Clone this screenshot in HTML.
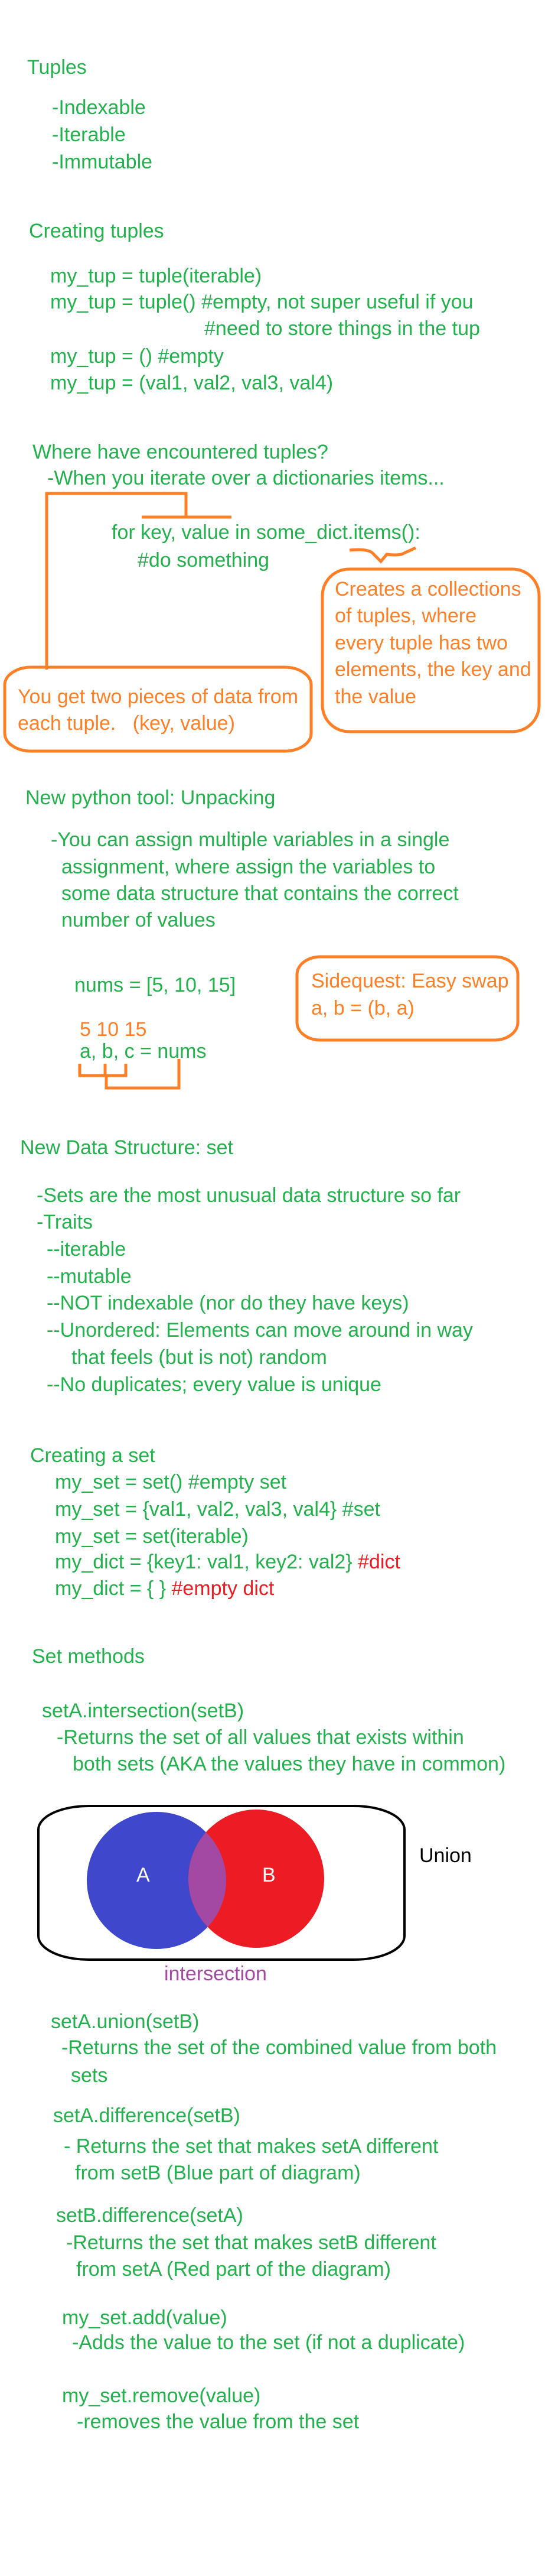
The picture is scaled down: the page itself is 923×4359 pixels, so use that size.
<!DOCTYPE html>
<html><head><meta charset="utf-8">
<style>
html,body{margin:0;padding:0;background:#fff;}
#p{position:relative;width:923px;height:4359px;overflow:hidden;background:#fff;}
.t{position:absolute;white-space:pre;font-family:"Liberation Sans",sans-serif;font-size:34px;line-height:38px;margin-top:-2px;color:#22b14c;}
.o{color:#ff7f27;}
.r{color:#ed1c24;}
.k{color:#000;}
.pu{color:#a349a4;}
.w{color:#fff;}
svg{position:absolute;left:0;top:0;}
</style></head><body><div id="p">
<svg width="923" height="4359" viewBox="0 0 923 4359">
 <g fill="none" stroke="#ff7f27" stroke-width="5">
  <polyline points="79,1133 79,835 315,835 315,875"/>
  <line x1="240" y1="875" x2="392" y2="875"/>
  <path d="M592,931 Q620,928 630,935 L645,950 L655,938 Q670,940 680,938 L704,927"/>
  <rect x="546" y="963" width="367" height="275" rx="45" ry="45"/>
  <rect x="8" y="1129" width="519" height="142" rx="45" ry="30"/>
  <rect x="503" y="1619" width="374" height="141" rx="40" ry="30"/>
  <polyline points="135,1800 135,1820 213,1820 213,1800"/>
  <line x1="178" y1="1800" x2="178" y2="1820"/>
  <polyline points="180,1820 180,1841 303,1841 303,1792"/>
 </g>
 <rect x="65" y="3056" width="620" height="260" rx="85" ry="40" fill="none" stroke="#000" stroke-width="4"/>
 <ellipse cx="265" cy="3182" rx="118" ry="116" fill="#3f48cc"/>
 <ellipse cx="434" cy="3179" rx="115" ry="117" fill="#ed1c24"/>
 <clipPath id="cb"><ellipse cx="265" cy="3182" rx="118" ry="116"/></clipPath>
 <ellipse cx="434" cy="3179" rx="115" ry="117" fill="#a349a4" clip-path="url(#cb)"/>
</svg>

<div class="t" style="left:46px;top:97px">Tuples</div>
<div class="t" style="left:88px;top:165px">-Indexable</div>
<div class="t" style="left:88px;top:211px">-Iterable</div>
<div class="t" style="left:88px;top:257px">-Immutable</div>
<div class="t" style="left:49px;top:374px">Creating tuples</div>
<div class="t" style="left:85px;top:450px">my_tup = tuple(iterable)</div>
<div class="t" style="left:85px;top:494px">my_tup = tuple() #empty, not super useful if you</div>
<div class="t" style="left:346px;top:539px">#need to store things in the tup</div>
<div class="t" style="left:85px;top:586px">my_tup = () #empty</div>
<div class="t" style="left:85px;top:631px">my_tup = (val1, val2, val3, val4)</div>

<div class="t" style="left:55px;top:748px">Where have encountered tuples?</div>
<div class="t" style="left:80px;top:792px">-When you iterate over a dictionaries items...</div>
<div class="t" style="left:189px;top:884px">for key, value in some_dict.items():</div>
<div class="t" style="left:233px;top:931px">#do something</div>
<div class="t o" style="left:567px;top:980px">Creates a collections</div>
<div class="t o" style="left:567px;top:1025px">of tuples, where</div>
<div class="t o" style="left:567px;top:1071px">every tuple has two</div>
<div class="t o" style="left:567px;top:1116px">elements, the key and</div>
<div class="t o" style="left:567px;top:1162px">the value</div>
<div class="t o" style="left:30px;top:1162px">You get two pieces of data from</div>
<div class="t o" style="left:30px;top:1207px">each tuple.   (key, value)</div>

<div class="t" style="left:43px;top:1333px">New python tool: Unpacking</div>
<div class="t" style="left:86px;top:1404px">-You can assign multiple variables in a single</div>
<div class="t" style="left:104px;top:1450px">assignment, where assign the variables to</div>
<div class="t" style="left:104px;top:1495px">some data structure that contains the correct</div>
<div class="t" style="left:104px;top:1540px">number of values</div>
<div class="t" style="left:126px;top:1650px">nums = [5, 10, 15]</div>
<div class="t o" style="left:135px;top:1725px">5 10 15</div>
<div class="t" style="left:135px;top:1762px">a, b, c = nums</div>
<div class="t o" style="left:527px;top:1643px">Sidequest: Easy swap</div>
<div class="t o" style="left:527px;top:1689px">a, b = (b, a)</div>

<div class="t" style="left:34px;top:1925px">New Data Structure: set</div>
<div class="t" style="left:62px;top:2006px">-Sets are the most unusual data structure so far</div>
<div class="t" style="left:62px;top:2051px">-Traits</div>
<div class="t" style="left:79px;top:2097px">--iterable</div>
<div class="t" style="left:79px;top:2143px">--mutable</div>
<div class="t" style="left:79px;top:2188px">--NOT indexable (nor do they have keys)</div>
<div class="t" style="left:79px;top:2234px">--Unordered: Elements can move around in way</div>
<div class="t" style="left:121px;top:2280px">that feels (but is not) random</div>
<div class="t" style="left:79px;top:2326px">--No duplicates; every value is unique</div>

<div class="t" style="left:51px;top:2446px">Creating a set</div>
<div class="t" style="left:93px;top:2491px">my_set = set() #empty set</div>
<div class="t" style="left:93px;top:2537px">my_set = {val1, val2, val3, val4} #set</div>
<div class="t" style="left:93px;top:2583px">my_set = set(iterable)</div>
<div class="t" style="left:93px;top:2626px">my_dict = {key1: val1, key2: val2} <span class="r">#dict</span></div>
<div class="t" style="left:93px;top:2671px">my_dict = { } <span class="r">#empty dict</span></div>

<div class="t" style="left:54px;top:2786px">Set methods</div>
<div class="t" style="left:71px;top:2878px">setA.intersection(setB)</div>
<div class="t" style="left:96px;top:2923px">-Returns the set of all values that exists within</div>
<div class="t" style="left:123px;top:2968px">both sets (AKA the values they have in common)</div>

<div class="t w" style="left:231px;top:3156px">A</div>
<div class="t w" style="left:444px;top:3156px">B</div>
<div class="t k" style="left:710px;top:3123px">Union</div>
<div class="t pu" style="left:278px;top:3323px">intersection</div>

<div class="t" style="left:86px;top:3404px">setA.union(setB)</div>
<div class="t" style="left:104px;top:3448px">-Returns the set of the combined value from both</div>
<div class="t" style="left:120px;top:3495px">sets</div>
<div class="t" style="left:90px;top:3563px">setA.difference(setB)</div>
<div class="t" style="left:108px;top:3615px">- Returns the set that makes setA different</div>
<div class="t" style="left:127px;top:3660px">from setB (Blue part of diagram)</div>
<div class="t" style="left:95px;top:3732px">setB.difference(setA)</div>
<div class="t" style="left:112px;top:3778px">-Returns the set that makes setB different</div>
<div class="t" style="left:129px;top:3823px">from setA (Red part of the diagram)</div>

<div class="t" style="left:105px;top:3905px">my_set.add(value)</div>
<div class="t" style="left:122px;top:3947px">-Adds the value to the set (if not a duplicate)</div>
<div class="t" style="left:105px;top:4037px">my_set.remove(value)</div>
<div class="t" style="left:130px;top:4081px">-removes the value from the set</div>
</div></body></html>
